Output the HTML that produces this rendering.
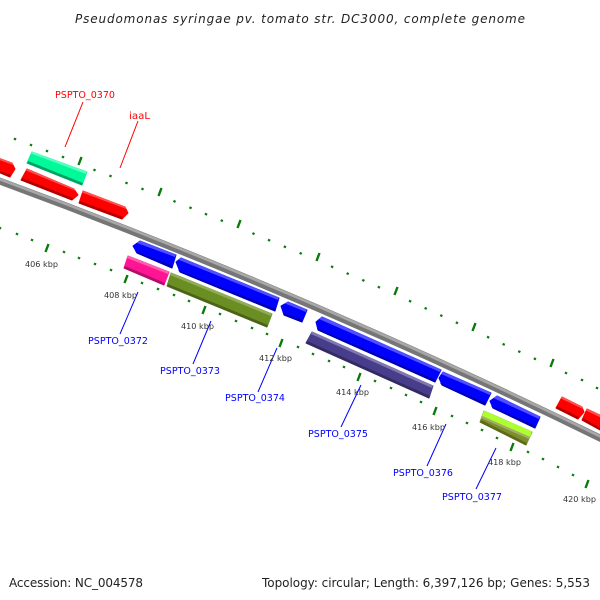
<!DOCTYPE html>
<html><head><meta charset="utf-8"><style>
html,body{margin:0;padding:0;background:#fff}
svg{display:block}
text{font-family:"DejaVu Sans",sans-serif}
.k{font-size:8px;fill:#333}
.b{font-size:10px;fill:#0000ff}
.r{font-size:10px;fill:#ff0000}
.m{stroke-width:1;stroke-linejoin:round}
</style></head><body>
<svg width="600" height="600" viewBox="0 0 600 600" xmlns="http://www.w3.org/2000/svg">
<rect width="600" height="600" fill="#fff"/>
<text x="75" y="23" font-size="12" font-style="italic" fill="#222" textLength="450" lengthAdjust="spacing">Pseudomonas syringae pv. tomato str. DC3000, complete genome</text>
<text x="9" y="587" font-size="12" fill="#222" textLength="134" lengthAdjust="spacing">Accession: NC_004578</text>
<text x="262" y="587" font-size="12" fill="#222" textLength="328" lengthAdjust="spacing">Topology: circular; Length: 6,397,126 bp; Genes: 5,553</text>

<!-- backbone -->
<path d="M-6 179Q300 291 606 441" fill="none" stroke="#767676" stroke-width="7"/>
<path d="M-6 177.2Q300 289 606 439.2" fill="none" stroke="#a8a8a8" stroke-width="2.6"/>

<!-- minor ticks -->
<g fill="none" stroke="#0a7a0a" stroke-width="2.4">
<path d="M14.5 140l1-2M30.5 146l1-2M46.5 152l1-2M62.5 158l1-2M94 171l1-2M110 177l1-2M126 184l1-2M142 190l1-2M174 202.4l1-2M190 208.8l1-2M205.5 215.2l1-2M221.3 221.6l1-2M253 234.6l1-2M268.6 241.2l1-2M284.4 247.8l1-2M300.2 254.4l1-2M331.6 267.8l1-2M347.2 274.6l1-2M362.8 281.4l1-2M378.4 288.2l1-2M409.6 302.2l1-2M425.2 309.4l1-2M440.8 316.6l1-2M456.4 323.8l1-2M487.6 338.2l1-2M503.2 345.4l1-2M518.8 352.6l1-2M534.4 359.8l1-2M565.5 374l1-2M581.5 381l1-2M596.5 389l1-2"/>
<path d="M-.5 229l1-2M16.5 235l1-2M31.5 241l1-2M63.5 253l1-2M78.5 259l1-2M94.5 265l1-2M110.5 271l1-2M141.5 284l1-2M157.5 290l1-2M173.5 296l1-2M188.5 302l1-2M219.5 315l1-2M235.5 322l1-2M251.5 329l1-2M266.5 335l1-2M297.5 348l1-2M312.5 355l1-2M328.5 362l1-2M343.5 368l1-2M374.5 382l1-2M390.5 389l1-2M405.5 396l1-2M420.5 403l1-2M451.5 417l1-2M466.5 424l1-2M481.5 431l1-2M496.5 439l1-2M527.5 453l1-2M542.5 460l1-2M557.5 468l1-2M572.5 476l1-2"/>
</g>
<!-- major ticks -->
<g fill="none" stroke="#0a7a0a" stroke-width="2.4">
<path d="M78.5 165l3-8M158.5 196l3-8M237.5 228l3-8M316.5 261l3-8M394.5 295l3-8M472.5 331l3-8M550.5 367l3-8"/>
<path d="M45.5 252l3-8M124.5 283l3-8M202.5 314l3-8M279.5 347l3-8M357.5 381l3-8M433.5 415l3-8M510.5 451l3-8M585.5 488l3-8"/>
</g>

<!-- connectors -->
<g fill="none" stroke-width="1">
<path d="M83 102L65 147M138 121L120 168" stroke="#ff0000"/>
<path d="M138 292L120 334M211 321L193 364M277 348L258 392M361 385L341 427M446 424L427 466M496 448L476 489" stroke="#0000ff"/>
</g>

<!-- red genes -->
<g class="m" fill="#ff0000" stroke="#ff0000">
<polygon points="-2,158 12,163 15,169 10,177 -2,172"/>
<polygon points="27,169 74,189 78,195 72,200 21,180"/>
<polygon points="83,191 125,207 128,213 122,219 79,203"/>
<polygon points="562,397 582,407 584,412 578,419 556,408"/>
<polygon points="587,409 602,416 602,431 582,420"/>
</g>
<g fill="#ff5050">
<polygon points="-2,157.5 12,162.5 13.5,165 -2,159.5"/>
<polygon points="27,168.5 74,188.5 76,191 26,170.5"/>
<polygon points="83,190.5 125,206.5 126.5,209 82,192.5"/>
<polygon points="562,396.5 582,406.5 583,409 561,398.5"/>
<polygon points="587,408.5 602,415.5 602,418 586,410.5"/>
</g>
<g fill="#b30000">
<polygon points="-2,170 11,175 10,177.5 -2,172.5"/>
<polygon points="22,178 73,198 72,200.5 21,180.5"/>
<polygon points="80,201 123,217 122,219.5 79,203.5"/>
<polygon points="557,406 579,417 578,419.5 556,408.5"/>
<polygon points="583,418 602,429 602,431.5 582,420.5"/>
</g>

<!-- teal -->
<polygon class="m" points="32,152 87,172 82,185 27,163" fill="#00fa9a" stroke="#00fa9a"/>
<polygon points="32,151.5 87,171.5 86,174 31,153.5" fill="#55ffc0"/>
<polygon points="28,161 83,183 82,185.5 27,163.5" fill="#00a066"/>

<!-- blue genes -->
<g class="m" fill="#0000ff" stroke="#0000ff">
<polygon points="133,246 140,241 176,255 172,268 137,253"/>
<polygon points="176,262 181,258 279,298 275,311 180,272"/>
<polygon points="281,306 288,302 307,310 302,322 284,315"/>
<polygon points="316,322 322,317 441,370 435,382 318,330"/>
<polygon points="439,378 443,372 491,393 485,405 442,385"/>
<polygon points="490,401 497,396 540,417 535,428 493,408"/>
</g>
<g fill="#4f4fff">
<polygon points="140,240.5 176,254.5 175,257 137,243"/>
<polygon points="181,257.5 279,297.5 278,300 178,259.5"/>
<polygon points="288,301.5 307,309.5 306,312 285,303.5"/>
<polygon points="322,316.5 441,369.5 440,372 319,319"/>
<polygon points="443,371.5 491,392.5 490,395 441,374"/>
<polygon points="497,395.5 540,416.5 539,419 493.5,398"/>
</g>
<g fill="#0000b0">
<polygon points="135,251 173,266 172,268.5 137,253.5"/>
<polygon points="178,270 276,309 275,311.5 180,272.5"/>
<polygon points="283,313 303,320 302,322.5 284,315.5"/>
<polygon points="317,328 436,380 435,382.5 318,330.5"/>
<polygon points="440,383 486,403 485,405.5 442,385.5"/>
<polygon points="491,406 536,426 535,428.5 493,408.5"/>
</g>

<!-- pink -->
<polygon class="m" points="128,256 169,272 164,285 124,268" fill="#ff1493" stroke="#ff1493"/>
<polygon points="128,255.5 169,271.5 168,274 127,258" fill="#ff5cb0"/>
<polygon points="125,266 165,283 164,285.5 124,268.5" fill="#b00f68"/>
<!-- olive -->
<polygon class="m" points="171,273 272,314 267,327 167,286" fill="#6b8e23" stroke="#6b8e23"/>
<polygon points="171,272.5 272,313.5 271,316 170,275" fill="#90ab5a"/>
<polygon points="168,284 268,325 267,327.5 167,286.5" fill="#4a6318"/>
<!-- purple -->
<polygon class="m" points="312,332 433,386 429,398 306,343" fill="#483d8b" stroke="#483d8b"/>
<polygon points="312,331.5 433,385.5 432,388 311,334" fill="#7f77b0"/>
<polygon points="307,341 430,396 429,398.5 306,343.5" fill="#322a61"/>
<!-- lime + olive -->
<polygon class="m" points="484,411 532,432 526,445 480,422" fill="#7d8f2a" stroke="#7d8f2a"/>
<polygon points="484,410.5 532,431.5 530,437 482,416" fill="#adff2f"/>
<polygon points="482,416 530,437 529,439 481,418" fill="#a3ad6a"/>
<polygon points="481,420 527,443 526,445.5 480,422.5" fill="#5c6a1a"/>

<!-- labels -->
<text x="55" y="98" class="r" textLength="60" lengthAdjust="spacingAndGlyphs">PSPTO_0370</text>
<text x="129" y="119" class="r" textLength="21" lengthAdjust="spacingAndGlyphs">iaaL</text>
<text x="88" y="344" class="b" textLength="60" lengthAdjust="spacingAndGlyphs">PSPTO_0372</text>
<text x="160" y="374" class="b" textLength="60" lengthAdjust="spacingAndGlyphs">PSPTO_0373</text>
<text x="225" y="401" class="b" textLength="60" lengthAdjust="spacingAndGlyphs">PSPTO_0374</text>
<text x="308" y="437" class="b" textLength="60" lengthAdjust="spacingAndGlyphs">PSPTO_0375</text>
<text x="393" y="476" class="b" textLength="60" lengthAdjust="spacingAndGlyphs">PSPTO_0376</text>
<text x="442" y="500" class="b" textLength="60" lengthAdjust="spacingAndGlyphs">PSPTO_0377</text>
<text x="25" y="267" class="k" textLength="33" lengthAdjust="spacingAndGlyphs">406 kbp</text>
<text x="104" y="298" class="k" textLength="33" lengthAdjust="spacingAndGlyphs">408 kbp</text>
<text x="181" y="329" class="k" textLength="33" lengthAdjust="spacingAndGlyphs">410 kbp</text>
<text x="259" y="361" class="k" textLength="33" lengthAdjust="spacingAndGlyphs">412 kbp</text>
<text x="336" y="395" class="k" textLength="33" lengthAdjust="spacingAndGlyphs">414 kbp</text>
<text x="412" y="430" class="k" textLength="33" lengthAdjust="spacingAndGlyphs">416 kbp</text>
<text x="488" y="465" class="k" textLength="33" lengthAdjust="spacingAndGlyphs">418 kbp</text>
<text x="563" y="502" class="k" textLength="33" lengthAdjust="spacingAndGlyphs">420 kbp</text>
</svg>
</body></html>
